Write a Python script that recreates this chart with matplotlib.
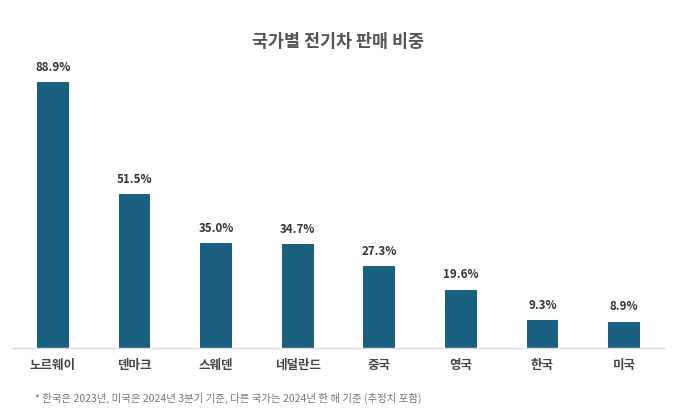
import matplotlib
matplotlib.use("Agg")
import matplotlib.pyplot as plt

plt.rcParams['font.family'] = ['Noto Sans CJK KR', 'DejaVu Sans']

countries = ["노르웨이", "덴마크", "스웨덴", "네덜란드", "중국", "영국", "한국", "미국"]
shares = [88.9, 51.5, 35.0, 34.7, 27.3, 19.6, 9.3, 8.9]
title = "국가별 전기차 판매 비중"
footnote = "* 한국은 2023년, 미국은 2024년 3분기 기준, 다른 국가는 2024년 한 해 기준 (추정치 포함)"

fig = plt.figure(figsize=(6.77, 4.12), dpi=100)
ax = fig.add_axes([0.018, 0.155, 0.964, 0.726])
x = range(len(countries))
bars = ax.bar(x, shares, width=0.39, color="#1a5f80")
for xi, v in zip(x, shares):
    ax.text(xi, v + 2.8, f"{v:.1f}%", ha="center", va="bottom", fontsize=8.3,
            fontweight="bold", color="#333333")
ax.set_xlim(-0.5, len(countries) - 0.5)
ax.set_ylim(0, 100)
ax.set_xticks(list(x))
ax.set_xticklabels(countries, fontsize=9, fontweight="bold", color="#444444")
ax.tick_params(axis="x", length=0, pad=8)
ax.set_yticks([])
for s in ["top", "right", "left"]:
    ax.spines[s].set_visible(False)
ax.spines["bottom"].set_color("#dddddd")
ax.spines["bottom"].set_linewidth(1)

fig.text(0.5, 1 - 42 / 412, title, ha="center", va="center", fontsize=12.5,
         fontweight="bold", color="#555555")
fig.text(0.052, 1 - 398 / 412, footnote, ha="left", va="center", fontsize=7.5,
         color="#777777")
fig.savefig("out.png", dpi=100)
